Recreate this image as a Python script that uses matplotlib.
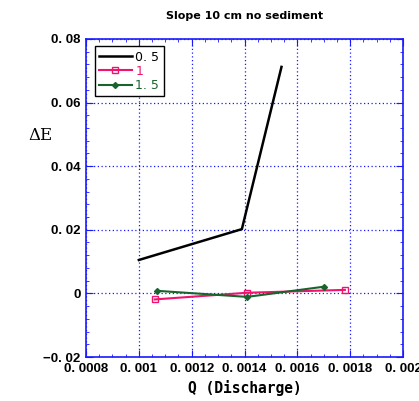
import matplotlib
matplotlib.use("Agg")
import matplotlib.pyplot as plt
from matplotlib.ticker import MultipleLocator, AutoMinorLocator, FuncFormatter

# data
q_05 = [0.001, 0.00139, 0.00154]
de_05 = [0.0105, 0.0202, 0.0712]

q_1 = [0.00106, 0.00141, 0.00178]
de_1 = [-0.0019, 0.0002, 0.0011]

q_15 = [0.00107, 0.00141, 0.0017]
de_15 = [0.0008, -0.0011, 0.0021]

labels = ["0. 5", "1", "1. 5"]
colors = ["black", "#f0146e", "#17652c"]

fig = plt.figure(figsize=(4.19, 4.01), dpi=100)
ax = fig.add_axes([0.2053, 0.1097, 0.7565, 0.7933])

ax.plot(q_05, de_05, color=colors[0], lw=1.8, label=labels[0])
ax.plot(q_1, de_1, color=colors[1], lw=1.5, marker="s", ms=5,
        mfc="none", mec=colors[1], label=labels[1])
ax.plot(q_15, de_15, color=colors[2], lw=1.5, marker="D", ms=3,
        mfc=colors[2], mec=colors[2], label=labels[2])

ax.set_xlim(0.0008, 0.002)
ax.set_ylim(-0.02, 0.08)
ax.xaxis.set_major_locator(MultipleLocator(0.0002))
ax.yaxis.set_major_locator(MultipleLocator(0.02))
ax.xaxis.set_minor_locator(AutoMinorLocator(4))
ax.yaxis.set_minor_locator(AutoMinorLocator(5))


def fmt(v, pos):
    if abs(v) < 1e-12:
        return "0"
    s = ("%.4f" % v).rstrip("0")
    return s.replace(".", ". ").replace("-", "\u2212")


ax.xaxis.set_major_formatter(FuncFormatter(fmt))
ax.yaxis.set_major_formatter(FuncFormatter(fmt))

blue = "#1a1aff"
for sp in ax.spines.values():
    sp.set_color(blue)
    sp.set_linewidth(1.2)
ax.tick_params(which="both", direction="in", top=True, right=True, color=blue)
ax.tick_params(which="major", length=5, labelsize=9.5, pad=4)
ax.tick_params(which="minor", length=2.5)
for lab in ax.get_xticklabels() + ax.get_yticklabels():
    lab.set_fontweight("bold")
    lab.set_family("Liberation Sans")

ax.grid(True, which="major", color=blue, ls=(0, (1, 2)), lw=0.9)
ax.set_axisbelow(True)

ax.set_xlabel("Q (Discharge)", fontsize=10.5, fontweight="bold",
              family="DejaVu Sans Mono", labelpad=4)
ax.set_ylabel("\u0394E", fontsize=12, family="DejaVu Serif", rotation=0,
              va="center", ha="center")
ax.yaxis.set_label_coords(-0.145, 0.695)
ax.set_title("Slope 10 cm no sediment", fontsize=8, fontweight="bold", pad=14)

leg = ax.legend(loc="upper left", bbox_to_anchor=(0.02, 0.985), fancybox=False,
                edgecolor="black", framealpha=1, fontsize=9,
                handlelength=2.6, borderpad=0.35, labelspacing=0.1,
                handletextpad=0.3, borderaxespad=0.2)
leg.get_frame().set_linewidth(1)
for txt, c in zip(leg.get_texts(), colors):
    txt.set_color(c)

fig.savefig("out.png", dpi=100)
